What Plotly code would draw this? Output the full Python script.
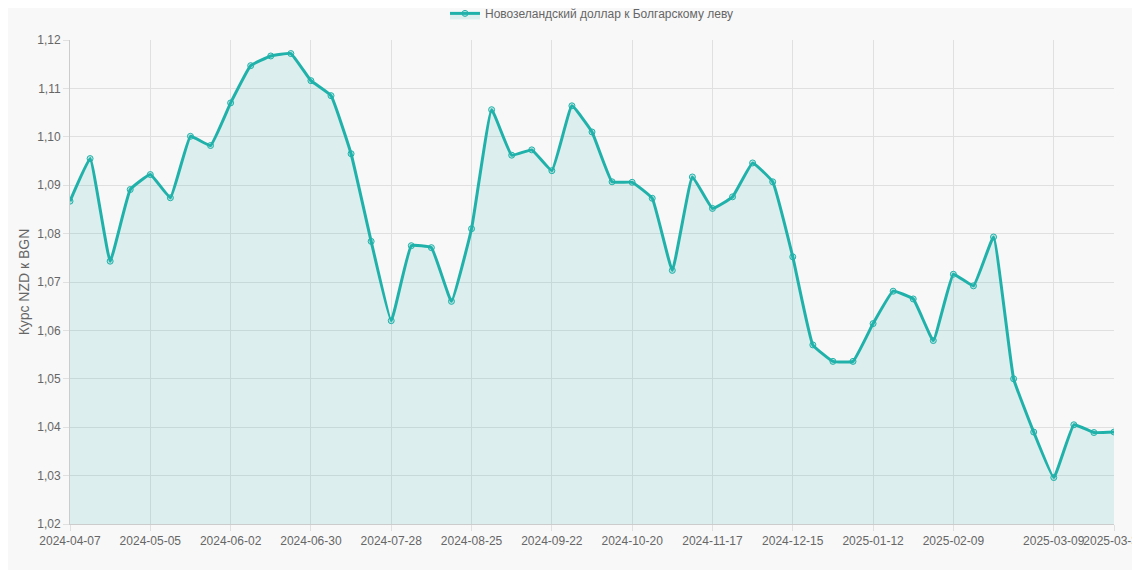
import plotly.graph_objects as go
import datetime as dt

start = dt.date(2024, 4, 7)
dates = [(start + dt.timedelta(weeks=i)).isoformat() for i in range(52)] + ["2025-03-31"]
values = [1.0867, 1.0955, 1.0743, 1.0891, 1.0922, 1.0874, 1.1001, 1.0982, 1.1070, 1.1147,
          1.1167, 1.1172, 1.1116, 1.1085, 1.0965, 1.0784, 1.0620, 1.0775, 1.0771, 1.0660,
          1.0810, 1.1056, 1.0962, 1.0973, 1.0930, 1.1064, 1.1010, 1.0907, 1.0906, 1.0873,
          1.0724, 1.0917, 1.0852, 1.0876, 1.0946, 1.0907, 1.0752, 1.0570, 1.0536, 1.0536,
          1.0614, 1.0681, 1.0665, 1.0579, 1.0716, 1.0692, 1.0793, 1.0500, 1.0390, 1.0296,
          1.0405, 1.0389, 1.0390]
tick_idx = [0, 4, 8, 12, 16, 20, 24, 28, 32, 36, 40, 44, 49, 52]
tick_text = ["2024-04-07", "2024-05-05", "2024-06-02", "2024-06-30", "2024-07-28", "2024-08-25",
             "2024-09-22", "2024-10-20", "2024-11-17", "2024-12-15", "2025-01-12", "2025-02-09",
             "2025-03-09", "2025-03-31"]
yticks = [1.02, 1.03, 1.04, 1.05, 1.06, 1.07, 1.08, 1.09, 1.10, 1.11, 1.12]

c = "#20b2aa"
fig = go.Figure(go.Scatter(
    x=list(range(len(values))), y=values, mode="lines+markers",
    name="Новозеландский доллар к Болгарскому леву",
    line=dict(color=c, width=3, shape="spline", smoothing=0.3),
    marker=dict(size=6, color="rgba(32,178,170,0.25)", line=dict(color=c, width=1)),
    fill="tozeroy", fillcolor="rgba(32,178,170,0.13)",
    customdata=dates, hovertemplate="%{customdata}: %{y}<extra></extra>"))
fig.update_layout(
    width=1140, height=570, margin=dict(l=62, r=34, t=32, b=54, autoexpand=False),
    paper_bgcolor="#f8f8f8", plot_bgcolor="#f8f8f8",
    font=dict(family="Liberation Sans, Arial, sans-serif", size=12, color="#666"),
    separators=", ", showlegend=True,
    legend=dict(orientation="h", x=0.5, xanchor="center", y=1.055, yanchor="middle",
                font=dict(size=12, color="#666"), bgcolor="rgba(0,0,0,0)"),
    xaxis=dict(range=[0, 52], tickvals=tick_idx, ticktext=tick_text, tickangle=0,
               automargin=False, showgrid=True,
               gridcolor="#e0e0e0", showline=True, linecolor="#ccc", ticks="outside",
               ticklen=6, tickcolor="#e0e0e0", zeroline=False),
    yaxis=dict(range=[1.02, 1.12], tickvals=yticks, tickformat=".2f", showgrid=True,
               automargin=False,
               gridcolor="#e0e0e0", showline=True, linecolor="#ccc", ticks="outside",
               ticklen=6, tickcolor="#e0e0e0", zeroline=False,
               title=dict(text="Курс NZD к BGN", standoff=4)),
)
fig.write_html("out.html")
